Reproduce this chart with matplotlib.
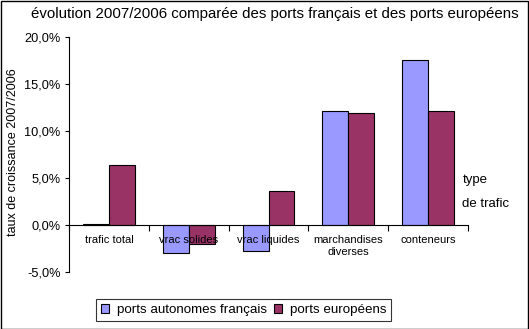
import matplotlib
matplotlib.use("Agg")
import matplotlib.pyplot as plt
from matplotlib.patches import Rectangle
import numpy as np

categories = ["trafic total", "vrac solides", "vrac liquides", "marchandises\ndiverses", "conteneurs"]
series_names = ["ports autonomes français", "ports européens"]
french = [0.1, -3.0, -2.8, 12.1, 17.6]
european = [6.35, -2.05, 3.6, 11.9, 12.1]
yticks = [-5, 0, 5, 10, 15, 20]
ytick_labels = ["-5,0%", "0,0%", "5,0%", "10,0%", "15,0%", "20,0%"]

plt.rcParams['font.family'] = ['Liberation Sans', 'DejaVu Sans']

W, H = 529, 329
fig = plt.figure(figsize=(W/100, H/100), dpi=100)
fig.patch.set_facecolor('white')
# outer border
fig.patches.append(Rectangle((0.5/W, 0.5/H), 1-1.5/W, 1-1.5/H, transform=fig.transFigure,
                             fill=False, edgecolor='black', linewidth=1))

ax = fig.add_axes([69/W, 1-272/H, (468-69)/W, (272-37)/H])
x = np.arange(len(categories))
bw = 0.325
ax.bar(x - bw/2, french, bw, color='#9999FF', edgecolor='black', linewidth=0.8, label=series_names[0])
ax.bar(x + bw/2, european, bw, color='#993366', edgecolor='black', linewidth=0.8, label=series_names[1])

ax.set_xlim(-0.5, len(categories) - 0.5)
ax.set_ylim(-5, 20)
ax.set_yticks(yticks)
ax.set_yticklabels(ytick_labels, fontsize=9.2)
ax.tick_params(axis='y', direction='out', length=3, width=0.8, pad=3)

ax.spines['top'].set_visible(False)
ax.spines['right'].set_visible(False)
ax.spines['bottom'].set_position(('data', 0))
ax.spines['left'].set_linewidth(0.8)
ax.spines['bottom'].set_linewidth(0.8)

ax.set_xticks(np.arange(len(categories) + 1) - 0.5)
ax.set_xticklabels([])
ax.tick_params(axis='x', which='major', direction='out', length=4, width=0.8)
ax.set_xticks(x, minor=True)
ax.set_xticklabels(categories, minor=True, fontsize=8, linespacing=1.3, va='top')
ax.tick_params(axis='x', which='minor', length=0, pad=7)

fig.text(13/W, 1-152/H, "taux de croissance 2007/2006", rotation=90,
         ha='center', va='center', fontsize=9)

fig.text(275/W, 1-14/H, "évolution 2007/2006 comparée des ports français et des ports européens",
         ha='center', va='center', fontsize=10.8)
fig.text(463/W, 1-180/H, "type", ha='left', va='center', fontsize=9.5)
fig.text(462/W, 1-204/H, "de trafic", ha='left', va='center', fontsize=9.5)

leg = fig.legend(loc='center', bbox_to_anchor=(243.5/W, 1-310/H), ncol=2, fontsize=9.6,
                 frameon=True, fancybox=False, edgecolor='black', handlelength=0.6,
                 handleheight=0.6, handletextpad=0.6, columnspacing=0.5, borderpad=0.4)
leg.get_frame().set_linewidth(0.8)

fig.savefig("out.png", dpi=100)
